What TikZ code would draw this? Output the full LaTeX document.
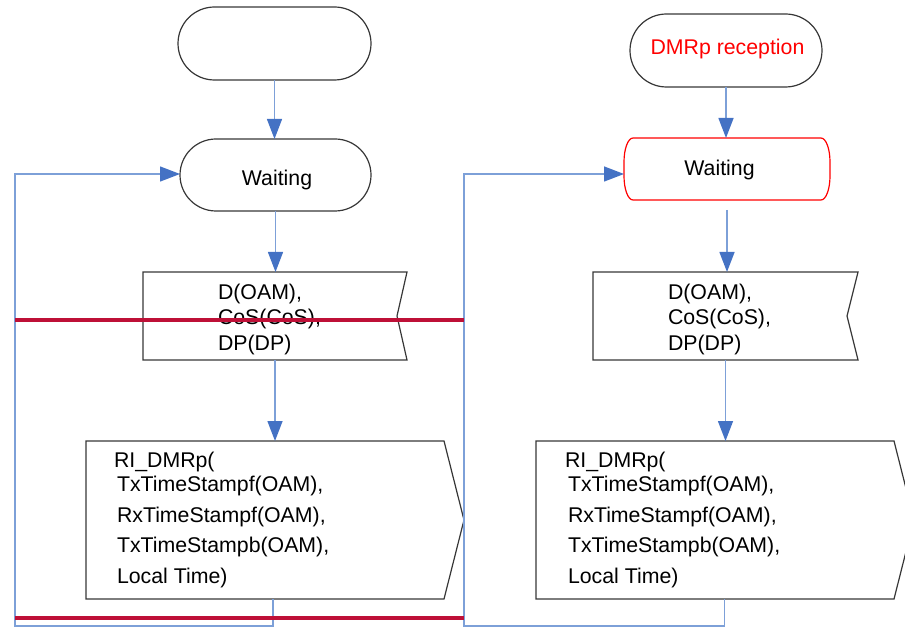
\documentclass[tikz,border=0pt]{standalone}
\usepackage{fontspec}
\setmainfont{Liberation Sans}
\usetikzlibrary{arrows.meta}
\definecolor{linkblue}{RGB}{125,160,216}
\definecolor{tipblue}{RGB}{68,114,196}
\definecolor{barred}{RGB}{190,16,55}
\definecolor{edgegray}{RGB}{55,55,55}
\begin{document}
\begin{tikzpicture}[x=1pt,y=1pt,
  every node/.style={inner sep=0pt, outer sep=0pt},
  txt/.style={font=\fontsize{21.3pt}{25pt}\selectfont, anchor=base west},
  ctxt/.style={font=\fontsize{21.3pt}{25pt}\selectfont, anchor=base},
  outline/.style={draw=edgegray, line width=1.2pt},
  conn/.style={draw=linkblue, line width=1.4pt, -{Triangle[length=20pt,width=15pt,color=tipblue]}},
  bar/.style={draw=barred, line width=3.5pt}]
\useasboundingbox (0,0) rectangle (905,-628);
\clip (0,0) rectangle (905,-628);

% left column
\node[outline, rounded corners=36.5pt, minimum width=193pt, minimum height=73pt] (t1) at (274.5,-43.5) {};
\node[outline, rounded corners=36pt, minimum width=191pt, minimum height=72pt] (w1) at (275.5,-175) {};
\node[ctxt] (w1t) at (277,-186) {Waiting};
\node[minimum width=264pt, minimum height=88pt] (d1) at (275,-316) {};
\draw[outline] (d1.north west) -- (d1.north east) -- ([xshift=-10pt]d1.east) -- (d1.south east) -- (d1.south west) -- cycle;
\node[txt] (d1a) at (218,-300) {D(OAM),};
\node[txt] (d1b) at (218,-325) {CoS(CoS),};
\node[txt] (d1c) at (218,-351) {DP(DP)};
\node[minimum width=358pt, minimum height=158pt] (r1) at (265,-520) {};
\draw[outline] (r1.north west) -- (r1.north east) -- ([xshift=20pt]r1.east) -- (r1.south east) -- (r1.south west) -- cycle;
\node[txt] (r1a) at (114,-467) {RI\_DMRp(};
\node[txt] (r1b) at (117,-491) {TxTimeStampf(OAM),};
\node[txt] (r1c) at (117,-522) {RxTimeStampf(OAM),};
\node[txt] (r1d) at (117,-552) {TxTimeStampb(OAM),};
\node[txt] (r1e) at (117,-583) {Local Time)};

% right column
\node[outline, rounded corners=36.5pt, minimum width=192pt, minimum height=73pt] (t2) at (726,-50.5) {};
\node[ctxt, text=red] (t2t) at (727.5,-55) {DMRp reception};
\node[minimum width=206pt, minimum height=62pt] (w2) at (727,-169) {};
\draw[draw=red, line width=1.2pt] ([xshift=9pt]w2.north west) -- ([xshift=-9pt]w2.north east)
  arc[start angle=90, end angle=0, x radius=9pt, y radius=24pt]
  -- ([yshift=24pt]w2.south east)
  arc[start angle=0, end angle=-90, x radius=9pt, y radius=24pt]
  -- ([xshift=9pt]w2.south west)
  arc[start angle=270, end angle=180, x radius=9pt, y radius=24pt]
  -- ([yshift=-24pt]w2.north west)
  arc[start angle=180, end angle=90, x radius=9pt, y radius=24pt] -- cycle;
\node[ctxt] (w2t) at (719.5,-176) {Waiting};
\node[minimum width=265pt, minimum height=88pt] (d2) at (725.5,-316) {};
\draw[outline] (d2.north west) -- (d2.north east) -- ([xshift=-11pt]d2.east) -- (d2.south east) -- (d2.south west) -- cycle;
\node[txt] (d2a) at (668,-300) {D(OAM),};
\node[txt] (d2b) at (668,-325) {CoS(CoS),};
\node[txt] (d2c) at (668,-351) {DP(DP)};
\node[minimum width=358pt, minimum height=158pt] (r2) at (715,-520) {};
\draw[outline] (r2.north west) -- (r2.north east) -- ([xshift=20pt]r2.east) -- (r2.south east) -- (r2.south west) -- cycle;
\node[txt] (r2a) at (565,-467) {RI\_DMRp(};
\node[txt] (r2b) at (568,-491) {TxTimeStampf(OAM),};
\node[txt] (r2c) at (568,-522) {RxTimeStampf(OAM),};
\node[txt] (r2d) at (568,-552) {TxTimeStampb(OAM),};
\node[txt] (r2e) at (568,-583) {Local Time)};

% connectors
\draw[conn] (t1.south) -- (t1.south |- w1.north);
\draw[conn] (w1.south) -- (w1.south |- d1.north);
\draw[conn] (d1.south) -- (d1.south |- r1.north);
\draw[conn] (t2.south) -- (t2.south |- w2.north);
\draw[conn, shorten <=10pt] (w2.south) -- (w2.south |- d2.north);
\draw[conn] (d2.south) -- (d2.south |- r2.north);

\coordinate (lb) at (15,-626);
\coordinate (rb) at (464,-626);
\draw[conn] ([xshift=8pt]r1.south) -- ([xshift=8pt]r1.south |- lb) -- (lb) |- ([yshift=1pt]w1.west);
\draw[conn] ([xshift=9.5pt]r2.south) -- ([xshift=9.5pt]r2.south |- rb) -- (rb) |- ([yshift=-5pt]w2.west);

% red bars
\coordinate (ba) at (15,-320);
\coordinate (bb) at (464,-320);
\coordinate (bc) at (15,-618);
\coordinate (bd) at (464,-618);
\draw[bar] (ba) -- (bb);
\draw[bar] (bc) -- (bd);
\end{tikzpicture}
\end{document}
